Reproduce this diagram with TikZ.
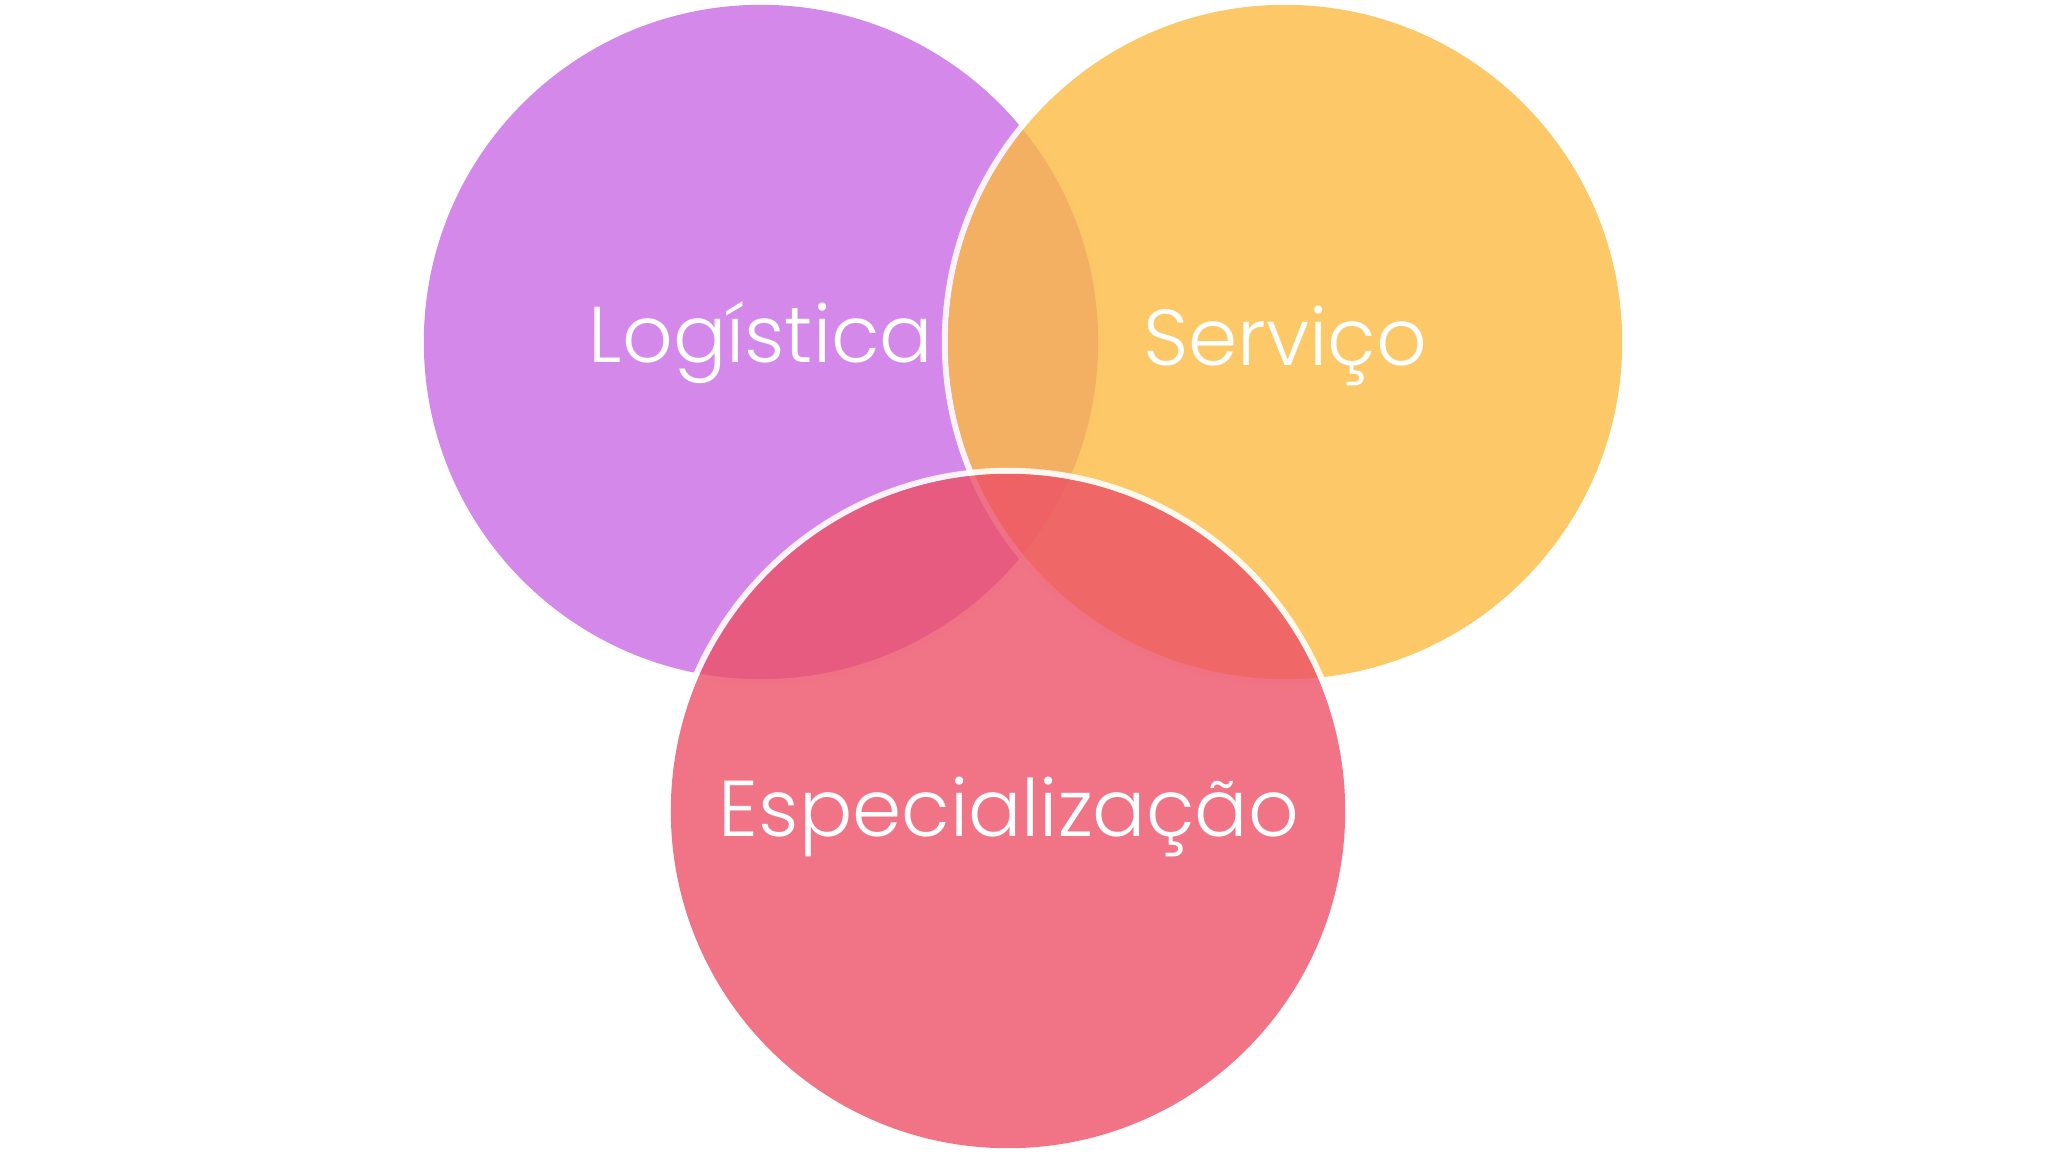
\documentclass[tikz,border=0pt]{standalone}
\usepackage{fontspec}
\IfFontExistsTF{Poppins Light}{\setmainfont{Poppins Light}}{\setmainfont{Poppins}}
\definecolor{logcol}{RGB}{201,106,229}
\definecolor{sercol}{RGB}{252,186,65}
\definecolor{espcol}{RGB}{237,80,104}
\tikzset{
  setlabel/.style={text=white, anchor=base, inner sep=0pt, font=\fontsize{22.5}{27}\selectfont}
}
\begin{document}
\begin{tikzpicture}[x=0.01cm, y=-0.01cm]
        \useasboundingbox (0,0) rectangle (2048,1155);
        \foreach \X/\Y/\C in {761/342/logcol, 1285/342/sercol, 1008/811/espcol} {
          \fill [white, opacity=0.9, even odd rule] (\X,\Y) circle [radius=3.43cm] circle [radius=3.37cm];
          \fill [\C, opacity=0.8] (\X,\Y) circle [radius=3.37cm];
        }
        \foreach \X/\Y/\T/\N in {761/363/Logística/log, 1285/366/Serviço/ser, 1009/836/Especialização/esp} {
          \node [setlabel] (\N) at (\X,\Y) {\T};
        }
      \end{tikzpicture}
\end{document}
